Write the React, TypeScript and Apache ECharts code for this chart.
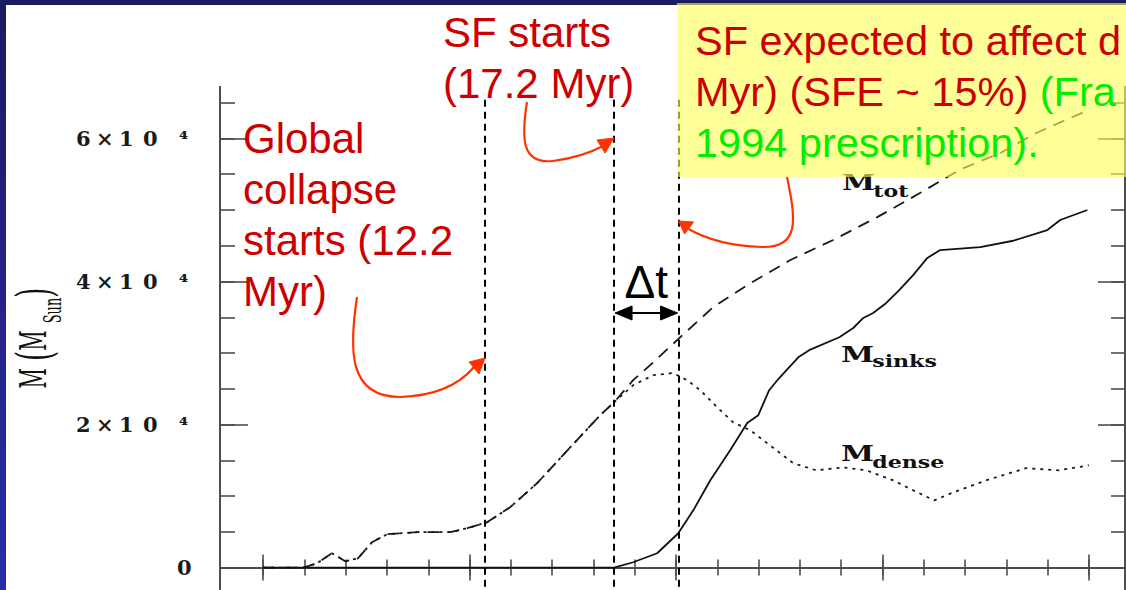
import React, { useEffect, useRef } from "react";
import * as echarts from "echarts";

// Time (Myr) and mass (M_sun) samples for the three mass curves
const tTot = [3.6, 5.15, 5.69, 6.27, 6.78, 7.28, 7.82, 8.41, 9.57, 10.85, 11.51, 12.28, 13.17, 14.22, 15.5, 16.66, 17.2, 17.94, 18.72, 19.76, 21.04, 22.36, 24.03, 25.69, 27.4, 29.07, 30.58, 32.24, 33.52, 35.6];
const mTot = [0, 0, 600, 2000, 880, 1300, 3540, 4660, 4940, 4940, 5500, 6330, 8430, 11800, 16800, 21300, 23100, 26200, 28700, 32200, 36400, 39500, 43000, 45800, 49000, 52400, 55600, 58100, 60700, 64000];

const tSinks = [3.6, 17.2, 17.94, 18.87, 19.69, 20.27, 20.93, 21.7, 22.36, 22.79, 23.21, 23.6, 24.34, 24.76, 25.93, 26.47, 26.86, 27.24, 27.75, 28.25, 28.79, 29.34, 29.84, 31.39, 32.67, 33.99, 34.49, 35.54];
const mSinks = [0, 0, 740, 2000, 4800, 8000, 12200, 16400, 20200, 21300, 24800, 26500, 29400, 30400, 32200, 33500, 34900, 35600, 37000, 38800, 40900, 43300, 44400, 44800, 45700, 47200, 48600, 50000];

const tDense = [3.6, 5.15, 5.69, 6.27, 6.78, 7.28, 7.82, 8.41, 9.57, 10.85, 11.51, 12.28, 13.17, 14.22, 15.5, 16.66, 17.2, 17.94, 18.72, 19.49, 20.03, 20.54, 21.2, 21.82, 22.48, 23.13, 24.14, 25.03, 26.08, 26.97, 28.02, 28.79, 29.61, 30.34, 31.62, 33.17, 34.45, 35.6];
const mDense = [0, 0, 600, 2000, 880, 1300, 3540, 4660, 4940, 4940, 5500, 6330, 8430, 11800, 16800, 21300, 23100, 25500, 26900, 27200, 26200, 24800, 22400, 20300, 19200, 17400, 14600, 13600, 14000, 13600, 12200, 10800, 9400, 10500, 12200, 13900, 13600, 14300];

// Tick positions
const yMajorTicks = [0, 20000, 40000, 60000];
const yMinorTicks = [0, 5000, 10000, 15000, 20000, 25000, 30000, 35000, 40000, 45000, 50000, 55000, 60000, 65000];
const xMajorTicks = [3.6, 11.6, 19.6, 27.6, 35.6];
const xMinorTicks = [3.6, 5.2, 6.8, 8.4, 10, 11.6, 13.2, 14.8, 16.4, 18, 19.6, 21.2, 22.8, 24.4, 26, 27.6, 29.2, 30.8, 32.4, 34, 35.6];

// Event times (Myr)
const T_COLLAPSE = 12.2;
const T_SF = 17.2;
const T_FEEDBACK = 19.7;

const zip = (t: number[], m: number[]) => t.map((v, i) => [v, m[i]]);

const RED = "#cc0000";
const GREEN = "#00ee00";
const ARROW = "#ff3300";
const SANS = '"Liberation Sans", Arial, sans-serif';
const SERIF = '"DejaVu Serif", serif';
const AXIS = "#4d4d4d";

export default function App() {
  const ref = useRef<HTMLDivElement>(null);

  useEffect(() => {
    const chart = echarts.init(ref.current!, null, { renderer: "svg" });

    const xBase = {
      type: "value",
      min: 1.93,
      max: 37.0,
      axisLine: { show: true, lineStyle: { color: AXIS, width: 2 } },
      axisLabel: { show: false },
      splitLine: { show: false },
    };
    const yBase = {
      type: "value",
      min: -3000,
      max: 67200,
      axisLine: { show: true, lineStyle: { color: AXIS, width: 2 } },
      splitLine: { show: false },
    };
    const tick = (vals: number[], len: number) => ({
      show: true,
      inside: true,
      length: len,
      customValues: vals,
      lineStyle: { color: AXIS, width: 1.6 },
    });
    const lab = { fontFamily: SERIF, fontSize: 21, fontWeight: "bold", color: "#1a1a1a", lineHeight: 21, align: "left" };

    chart.setOption({
      animation: false,
      backgroundColor: "#ffffff",
      grid: { left: 220, top: 87, right: 1, bottom: 1, outerBoundsMode: "none" },
      xAxis: [
        { ...xBase, position: "bottom", axisTick: tick(xMajorTicks, 13) },
        { ...xBase, position: "bottom", axisTick: tick(xMinorTicks, 8) },
        { ...xBase, position: "top", axisTick: tick(xMajorTicks, 13) },
        { ...xBase, position: "top", axisTick: tick(xMinorTicks, 8) },
      ],
      yAxis: [
        {
          ...yBase,
          position: "left",
          axisTick: tick(yMajorTicks, 28),
          axisLabel: {
            show: true,
            customValues: yMajorTicks,
            margin: 25,
            formatter: (v: number) =>
              v === 0 ? "{z|0}" : `{a|${v / 10000}}{b|×}{c|1}{d|0}{e|⁴}`,
            rich: {
              a: { ...lab, width: 18, padding: [0, 0, 0, 3] },
              b: { ...lab, width: 21, padding: [0, 0, 0, 2] },
              c: { ...lab, width: 19, padding: [0, 0, 0, 2] },
              d: { ...lab, width: 29, padding: [0, 0, 0, 5] },
              e: { ...lab, width: 16, padding: [0, 0, 0, 7] },
              z: { ...lab, width: 18, padding: [0, 0, 0, 3] },
            },
          },
        },
        { ...yBase, position: "left", axisTick: tick(yMinorTicks, 15), axisLabel: { show: false } },
        { ...yBase, position: "right", axisTick: tick(yMajorTicks, 27), axisLabel: { show: false } },
        { ...yBase, position: "right", axisTick: tick(yMinorTicks, 14), axisLabel: { show: false } },
      ],
      series: [
        {
          name: "M_tot",
          type: "line",
          data: zip(tTot, mTot),
          symbol: "none",
          lineStyle: { color: "#1a1a1a", width: 1.8, type: [12, 8] },
          z: 3,
        },
        {
          name: "M_dense",
          type: "line",
          data: zip(tDense, mDense),
          symbol: "none",
          lineStyle: { color: "#1a1a1a", width: 1.8, type: [3, 5] },
          z: 3,
        },
        {
          name: "M_sinks",
          type: "line",
          data: zip(tSinks, mSinks),
          symbol: "none",
          lineStyle: { color: "#111", width: 1.8 },
          z: 4,
          markLine: {
            silent: true,
            symbol: "none",
            label: { show: false },
            lineStyle: { color: "#000", width: 2, type: [7, 5] },
            data: [T_COLLAPSE, T_SF, T_FEEDBACK].map((t) => [
              { coord: [t, 65400] },
              { coord: [t, -3000] },
            ]),
          },
        },
      ],
    });

    const px = (t: number) => chart.convertToPixel({ xAxisIndex: 0 }, t) as number;
    const xc = px(T_COLLAPSE);
    const xs = px(T_SF);
    const xf = px(T_FEEDBACK);

    const curve = (x1: number, y1: number, cpx1: number, cpy1: number, cpx2: number, cpy2: number, x2: number, y2: number) => ({
      type: "bezierCurve",
      silent: true,
      z: 70,
      shape: { x1, y1, cpx1, cpy1, cpx2, cpy2, x2, y2 },
      style: { stroke: ARROW, lineWidth: 2.2, fill: "none" },
    });
    const head = (pts: number[][], color: string) => ({
      type: "polygon",
      silent: true,
      z: 70,
      shape: { points: pts },
      style: { fill: color, stroke: color, lineWidth: 1 },
    });
    const curveLabel = (x: number, y: number, sub: string, dy: number) => ({
      type: "group",
      x,
      y,
      scaleX: 1.3,
      silent: true,
      children: [
        {
          type: "text",
          x: 0,
          y: 0,
          z: 40,
          style: { text: "M", fontFamily: SERIF, fontWeight: "bold", fontSize: 23, fill: "#111", verticalAlign: "middle" },
        },
        {
          type: "text",
          x: 24,
          y: dy,
          z: 40,
          style: { text: sub, fontFamily: SERIF, fontWeight: "bold", fontSize: 17, fill: "#111", verticalAlign: "middle" },
        },
      ],
    });

    chart.setOption({
      graphic: [
        // slide frame
        { type: "rect", silent: true, z: 50, shape: { x: 0, y: 0, width: 1126, height: 5 }, style: { fill: "#1c1c60" } },
        {
          type: "rect",
          silent: true,
          z: 50,
          shape: { x: 0, y: 0, width: 6, height: 590 },
          style: {
            fill: new echarts.graphic.LinearGradient(0, 0, 0, 1, [
              { offset: 0, color: "#1b1b62" },
              { offset: 1, color: "#2b2bab" },
            ]),
          },
        },
        // y-axis title
        {
          type: "text",
          x: 33,
          y: 338,
          rotation: Math.PI / 2,
          scaleY: 1.9,
          silent: true,
          z: 40,
          style: {
            text: "{m|M}{p|(}{m|M}{s|Sun}{p|)}",
            align: "center",
            verticalAlign: "middle",
            rich: {
              m: { fontFamily: SERIF, fontSize: 20, fill: "#111", lineHeight: 34, verticalAlign: "middle", padding: [0, 7, 0, 0] },
              p: { fontFamily: SERIF, fontSize: 26, fill: "#111", lineHeight: 34, verticalAlign: "middle" },
              s: { fontFamily: SERIF, fontSize: 13, fill: "#111", lineHeight: 13, verticalAlign: "bottom" },
            },
          },
        },
        // curve labels
        curveLabel(842, 182, "tot", 9),
        curveLabel(841, 353.5, "sinks", 7.5),
        curveLabel(841, 453, "dense", 9),
        // notes
        {
          type: "text",
          x: 243,
          y: 113,
          silent: true,
          z: 70,
          style: { text: `Global\ncollapse\nstarts (${T_COLLAPSE}\nMyr)`, fill: RED, fontSize: 42, fontFamily: SANS, lineHeight: 51, verticalAlign: "top" },
        },
        {
          type: "text",
          x: 443,
          y: 7,
          silent: true,
          z: 70,
          style: { text: `SF starts\n(${T_SF} Myr)`, fill: RED, fontSize: 42, fontFamily: SANS, lineHeight: 51, verticalAlign: "top" },
        },
        {
          type: "rect",
          silent: true,
          z: 60,
          shape: { x: 677, y: 3, width: 460, height: 174 },
          style: { fill: "rgba(255,255,90,0.62)" },
        },
        {
          type: "text",
          x: 695,
          y: 15,
          silent: true,
          z: 70,
          style: {
            text: "{r|SF expected to affect d}\n{r|Myr) (SFE ~ 15%) }{g|(Fra}\n{g|1994 prescription).}",
            verticalAlign: "top",
            rich: {
              r: { fill: RED, fontSize: 41.5, fontFamily: SANS, lineHeight: 51 },
              g: { fill: GREEN, fontSize: 41.5, fontFamily: SANS, lineHeight: 51 },
            },
          },
        },
        // arrows
        curve(357, 297, 349, 350, 348, 397, 400, 397),
        curve(400, 397, 432, 396, 458, 386, xc - 11, 367),
        head([[xc, 358], [xc - 16, 362], [xc - 6, 374]], ARROW),
        curve(527, 102, 521, 140, 522, 164, 553, 161),
        curve(553, 161, 575, 158, 590, 153, xs - 11, 146),
        head([[xs, 138], [xs - 17, 140], [xs - 9, 153]], ARROW),
        curve(787, 177, 796, 220, 800, 248, 762, 247),
        curve(762, 247, 730, 246, 706, 239, xf + 10, 229),
        head([[xf, 221], [xf + 6, 234], [xf + 15, 222]], ARROW),
        // Δt interval
        {
          type: "line",
          silent: true,
          z: 70,
          shape: { x1: xs + 14, y1: 313, x2: xf - 14, y2: 313 },
          style: { stroke: "#000", lineWidth: 2 },
        },
        head([[xs + 1, 313], [xs + 18, 306], [xs + 18, 320]], "#000"),
        head([[xf - 1, 313], [xf - 18, 306], [xf - 18, 320]], "#000"),
        {
          type: "text",
          x: (xs + xf) / 2,
          y: 259,
          silent: true,
          z: 70,
          style: { text: "Δt", fill: "#000", fontSize: 46, fontFamily: SANS, lineHeight: 46, align: "center", verticalAlign: "top" },
        },
      ],
    });

    return () => chart.dispose();
  }, []);

  return <div ref={ref} style={{ position: "fixed", left: 0, top: 0, width: 1126, height: 590 }} />;
}
